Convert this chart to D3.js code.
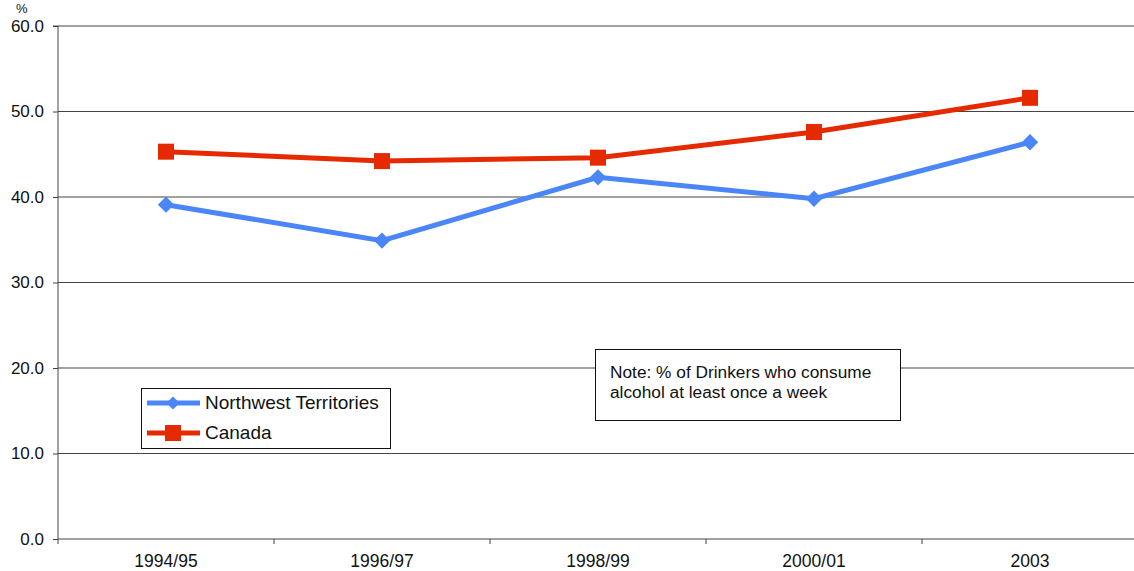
<!DOCTYPE html>
<html><head><meta charset="utf-8">
<script src="https://cdn.jsdelivr.net/npm/d3@7"></script>
<style>body{margin:0;background:#fff;}svg{display:block;font-family:"Liberation Sans",Arial,sans-serif;}</style>
</head><body>
<svg id="c" width="1134" height="571"></svg>
<script>
const categories = ["1994/95","1996/97","1998/99","2000/01","2003"];
const nwtValues = [39.1, 34.9, 42.3, 39.8, 46.4];
const canadaValues = [45.3, 44.2, 44.6, 47.6, 51.6];
const yTicks = [0,10,20,30,40,50,60];
const seriesNames = ["Northwest Territories","Canada"];
const noteLines = ["Note: % of Drinkers who consume","alcohol at least once a week"];

const svg = d3.select("#c");
const L = 58, R = 1138, T = 26, B = 539;
const x = d3.scaleBand().domain(categories).range([L, R]);
const y = d3.scaleLinear().domain([0, 60]).range([B, T]);

// gridlines
svg.append("g").selectAll("line").data(yTicks.filter(d=>d>0)).join("line")
  .attr("x1", L).attr("x2", 1134).attr("y1", d=>y(d)).attr("y2", d=>y(d))
  .attr("stroke", "#444").attr("stroke-width", 1);

// y axis
const ya = svg.append("g").attr("transform", `translate(${L},0)`)
  .call(d3.axisLeft(y).tickValues(yTicks).tickFormat(d3.format(".1f")).tickSize(5).tickPadding(9));
ya.select(".domain").attr("stroke", "#444").attr("d", `M-5,${T}H0V${B}`);
ya.selectAll("line").attr("stroke", "#444");
ya.selectAll("text").attr("font-size", 17).attr("fill", "#111").attr("font-family", '"Liberation Sans",Arial,sans-serif');

// x axis
svg.append("line").attr("x1", L).attr("x2", 1134).attr("y1", B).attr("y2", B).attr("stroke", "#444");
const bounds = categories.map((c,i)=>x(c)).concat([R]);
svg.append("g").selectAll("line").data(bounds).join("line")
  .attr("x1", d=>d).attr("x2", d=>d).attr("y1", B).attr("y2", B+5).attr("stroke", "#444");
svg.append("g").selectAll("text").data(categories).join("text")
  .attr("x", d=>x(d)+x.bandwidth()/2).attr("y", B+28).attr("text-anchor", "middle")
  .attr("font-size", 17.5).attr("fill", "#111").text(d=>d);

// % label
svg.append("text").attr("x", 16).attr("y", 13).attr("font-size", 13).attr("fill", "#111").text("%");

const cx = d => x(d) + x.bandwidth()/2;
const line = d3.line().x(d=>cx(d.c)).y(d=>y(d.v));
const blue = "#4a86f7", red = "#e62a00";
const nwt = categories.map((c,i)=>({c, v:nwtValues[i]}));
const can = categories.map((c,i)=>({c, v:canadaValues[i]}));

svg.append("path").datum(can).attr("d", line).attr("fill","none").attr("stroke", red).attr("stroke-width", 5);
svg.append("g").selectAll("rect").data(can).join("rect")
  .attr("x", d=>cx(d.c)-8).attr("y", d=>y(d.v)-8).attr("width", 16).attr("height", 16).attr("fill", red);

svg.append("path").datum(nwt).attr("d", line).attr("fill","none").attr("stroke", blue).attr("stroke-width", 5);
const diamond = d3.symbol().type(d3.symbolDiamond2).size(170);
svg.append("g").selectAll("path").data(nwt).join("path")
  .attr("transform", d=>`translate(${cx(d.c)},${y(d.v)})`).attr("d", diamond).attr("fill", blue);

// legend
const lg = svg.append("g");
lg.append("rect").attr("x", 141.5).attr("y", 388.5).attr("width", 249).attr("height", 60)
  .attr("fill", "#fff").attr("stroke", "#111");
const lgColors = [blue, red];
seriesNames.forEach((n,i)=>{
  const yy = 403 + i*30;
  lg.append("line").attr("x1", 147).attr("x2", 200).attr("y1", yy).attr("y2", yy).attr("stroke", lgColors[i]).attr("stroke-width", 5);
  if (i===0) lg.append("path").attr("transform", `translate(173,${yy})`).attr("d", d3.symbol().type(d3.symbolDiamond2).size(110)).attr("fill", blue);
  else lg.append("rect").attr("x", 165).attr("y", yy-8).attr("width", 16).attr("height", 16).attr("fill", red);
  lg.append("text").attr("x", 205).attr("y", yy+6).attr("font-size", 19).attr("fill", "#111").text(n);
});

// note
const ng = svg.append("g");
ng.append("rect").attr("x", 595.5).attr("y", 349.5).attr("width", 305).attr("height", 71)
  .attr("fill", "#fff").attr("stroke", "#111");
noteLines.forEach((t,i)=>{
  ng.append("text").attr("x", 610).attr("y", 378 + i*20).attr("font-size", 17.3).attr("fill", "#111").text(t);
});
</script>
</body></html>
